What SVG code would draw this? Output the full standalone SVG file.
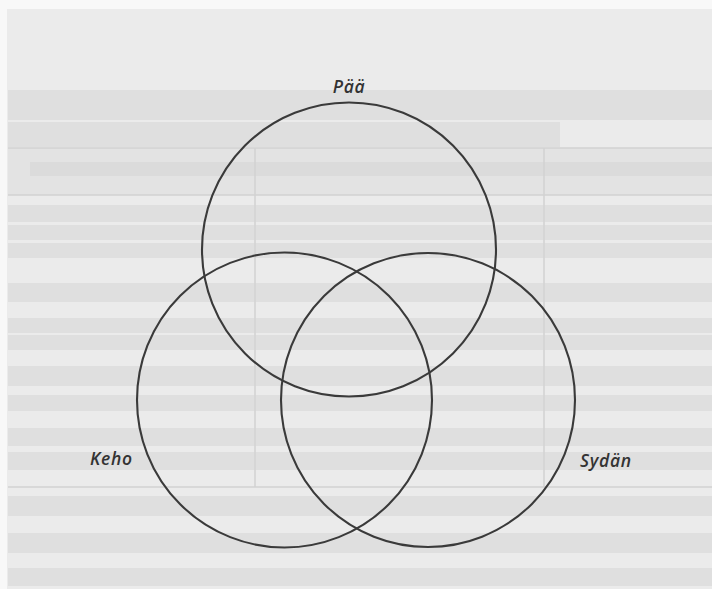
<svg xmlns="http://www.w3.org/2000/svg" width="712" height="589" viewBox="0 0 712 589">
  <style>
    .ring { fill: none; stroke: #3a3a3a; stroke-width: 2.1; }
    .lbl { font-family: "Open Sans", "Liberation Sans", sans-serif; font-style: italic; font-weight: 600; font-size: 17.5px; letter-spacing: 0.7px; fill: #333333; }
    .band { fill: #d4d4d4; opacity: 0.5; }
    .rule { stroke: #d2d2d2; stroke-width: 1.5; fill: none; }
  </style>
  <rect x="0" y="0" width="712" height="589" fill="#f8f8f8"/>
  <rect x="7" y="9" width="705" height="580" fill="#ebebeb"/>
  <g id="background">
    <rect class="band" x="8" y="90" width="704" height="30"/>
    <rect class="band" x="8" y="122" width="552" height="25"/>
    <rect x="8" y="148" width="704" height="47" fill="#e3e3e3"/>
    <rect class="band" x="30" y="162" width="682" height="14"/>
    <line class="rule" x1="8" y1="148" x2="712" y2="148"/>
    <line class="rule" x1="8" y1="195" x2="712" y2="195"/>
    <line class="rule" x1="255" y1="148" x2="255" y2="487"/>
    <line class="rule" x1="544" y1="148" x2="544" y2="487"/>
    <rect class="band" x="8" y="205" width="704" height="17"/>
    <rect class="band" x="8" y="225" width="704" height="15"/>
    <rect class="band" x="8" y="243" width="704" height="15"/>
    <rect class="band" x="8" y="283" width="704" height="19"/>
    <rect class="band" x="8" y="318" width="704" height="15"/>
    <rect class="band" x="8" y="335" width="704" height="15"/>
    <rect class="band" x="8" y="366" width="704" height="20"/>
    <rect class="band" x="8" y="395" width="704" height="16"/>
    <rect class="band" x="8" y="428" width="704" height="18"/>
    <rect class="band" x="8" y="452" width="704" height="18"/>
    <line class="rule" x1="8" y1="487" x2="712" y2="487"/>
    <rect class="band" x="8" y="496" width="704" height="20"/>
    <rect class="band" x="8" y="533" width="704" height="20"/>
    <rect class="band" x="8" y="568" width="704" height="18"/>
  </g>
  <g id="connectors"></g>
  <g id="paa">
    <circle class="ring" cx="349" cy="249.5" r="147"/>
    <text class="lbl" x="349" y="93" text-anchor="middle">Pää</text>
  </g>
  <g id="keho">
    <circle class="ring" cx="284.5" cy="400" r="147.5"/>
    <text class="lbl" x="90" y="465">Keho</text>
  </g>
  <g id="sydan">
    <circle class="ring" cx="428" cy="400" r="147"/>
    <text class="lbl" x="580" y="467">Sydän</text>
  </g>
</svg>
